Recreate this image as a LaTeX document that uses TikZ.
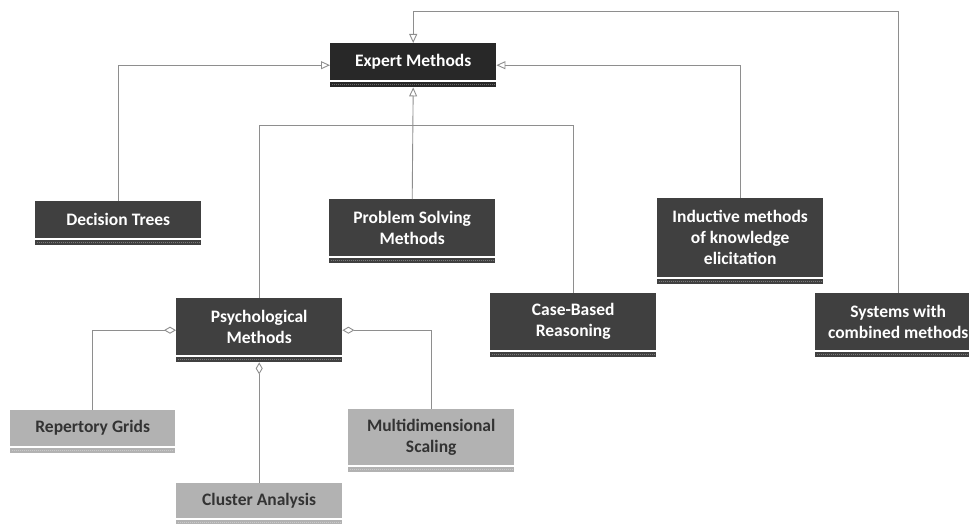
\documentclass[tikz,border=0pt]{standalone}
\usepackage{fontspec}
\setmainfont{Carlito}
\usetikzlibrary{arrows.meta,positioning}
\definecolor{darkbox}{HTML}{404040}
\definecolor{topbox}{HTML}{282828}
\definecolor{lightbox}{HTML}{B2B2B2}
\definecolor{linkgray}{HTML}{8E8E8E}

\begin{document}
\begin{tikzpicture}[x=1pt,y=-1pt,>={Triangle[open,length=9pt,width=8pt]},thin]
\tikzstyle{every node}=[font=\bfseries\fontsize{17.5}{21}\selectfont, align=center, inner sep=0pt, anchor=north west]
\tikzstyle{dark}=[fill=darkbox,text=white,minimum width=166pt]
\tikzstyle{light}=[fill=lightbox,text=black!80,minimum width=166pt]
\tikzstyle{link}=[draw=linkgray,line width=0.9pt]
\tikzstyle{part}=[{Diamond[open,length=12pt,width=7pt]}-]

\useasboundingbox (0,0) rectangle (969,524);

\node[dark,fill=topbox,minimum height=37pt] (expert) at (330,43) {Expert Methods};
\node[dark,minimum height=37pt]  (dt)   at (35,201)  {Decision Trees};
\node[dark,minimum height=57pt]  (ps)   at (329,199) {Problem Solving\\Methods};
\node[dark,minimum height=79pt]  (ind)  at (657,198) {Inductive methods\\of knowledge\\elicitation};
\node[dark,minimum height=57pt]  (psy)  at (176,298) {Psychological\\Methods};
\node[dark,minimum height=57pt]  (cbr)  at (490,293) {Case-Based\\Reasoning};
\node[dark,minimum height=57pt]  (sys)  at (815,293) {Systems with\\combined methods};
\node[light,minimum height=36pt,minimum width=165pt] (rep) at (10,410) {Repertory Grids};
\node[light,minimum height=35pt] (cl)   at (176,483) {Cluster Analysis};
\node[light,minimum height=56pt] (mds)  at (348,409) {Multidimensional\\Scaling};

% strips under the boxes
\foreach \n/\c in {expert/topbox,dt/darkbox,ps/darkbox,ind/darkbox,psy/darkbox,cbr/darkbox,sys/darkbox,rep/lightbox,cl/lightbox,mds/lightbox}{
  \fill[\c] ([yshift=-1.5pt]\n.south west) rectangle ([yshift=-7pt]\n.south east);
  \draw[\c!70!white,dash pattern=on 1pt off 1pt,line width=0.6pt] ([yshift=-4pt,xshift=2pt]\n.south west) -- ([yshift=-4pt,xshift=-2pt]\n.south east);
}

\coordinate (expbot) at ([yshift=-7pt]expert.south);
\coordinate (psybot) at ([yshift=-7pt]psy.south);

\draw[link,->] (dt.north) |- ([yshift=-3.5pt]expert.west);
\draw[link,->] (ind.north) |- ([yshift=-3.5pt]expert.east);
\draw[link,->] (sys.north) -- ++(0,-282) -| (expert.north);
\draw[link,->] (ps.north) -- (expbot);
\draw[link] (psy.north) -- ++(0,-173) -| (cbr.north);

\draw[link,part] ([yshift=-3.5pt]psy.west) -| (rep.north);
\draw[link,part] ([yshift=-3.5pt]psy.east) -| (mds.north);
\draw[link,part] (psybot) -- (cl.north);
\end{tikzpicture}
\end{document}
